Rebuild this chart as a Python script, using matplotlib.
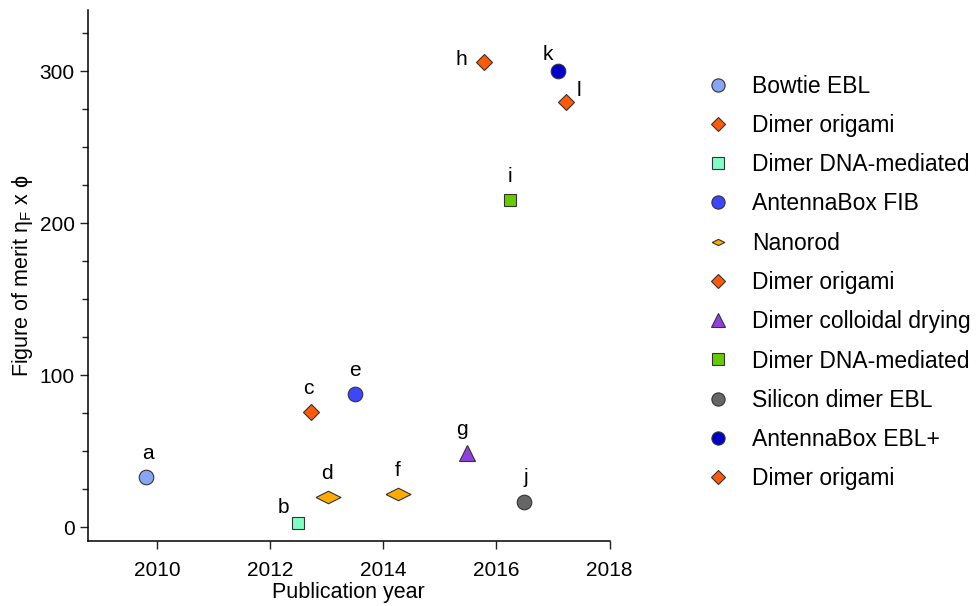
#!/usr/bin/env python3
"""Figure of merit vs publication year scatter."""

import matplotlib
matplotlib.use('Agg')
import matplotlib.pyplot as plt
from matplotlib.lines import Line2D
from matplotlib.ticker import MultipleLocator

plt.rcParams['font.family'] = ['Liberation Sans', 'DejaVu Sans']
plt.rcParams['mathtext.fontset'] = 'custom'
plt.rcParams['mathtext.rm'] = 'Liberation Sans'
plt.rcParams['mathtext.it'] = 'Liberation Sans'

# point data, one entry per letter
letters = ['a', 'b', 'c', 'd', 'e', 'f', 'g', 'h', 'i', 'j', 'k', 'l']
years = [2009.8, 2012.5, 2012.72, 2013.02, 2013.5, 2014.26, 2015.48,
         2015.78, 2016.24, 2016.49, 2017.08, 2017.22]
merit = [33, 3, 76, 20, 88, 22, 49, 306, 215, 17, 300, 280]
groups = [0, 2, 1, 4, 3, 4, 6, 5, 7, 8, 9, 10]

# legend entries
legend_labels = ['Bowtie EBL', 'Dimer origami', 'Dimer DNA-mediated', 'AntennaBox FIB',
                 'Nanorod', 'Dimer origami', 'Dimer colloidal drying', 'Dimer DNA-mediated',
                 'Silicon dimer EBL', 'AntennaBox EBL+', 'Dimer origami']
FLAT_DIAMOND = [(-1, 0), (0, 0.5), (1, 0), (0, -0.5), (-1, 0)]
legend_markers = ['o', 'D', 's', 'o', FLAT_DIAMOND, 'D', '^', 's', 'o', 'o', 'D']
legend_colors = ['#87a5f5', '#ff5a0a', '#7fffc4', '#3c46ff', '#ffaa00', '#ff5a0a',
                 '#9040e0', '#66cc00', '#666666', '#0000cc', '#ff5a0a']
marker_sizes = [10.5, 8.5, 9, 10.5, 18, 8.5, 11, 9, 10.5, 10.5, 8.5]
legend_sizes = [9.5, 7.5, 8.5, 9.5, 9, 7.5, 9.5, 8.5, 9.5, 9.5, 7.5]

# label offsets in points (dx, dy)
label_offsets = {
    'a': (2, 17), 'b': (-11, 11), 'c': (-2, 17), 'd': (-1, 17), 'e': (0, 17),
    'f': (0, 17), 'g': (-4, 17), 'h': (-16, 2), 'i': (0, 17), 'j': (1, 17),
    'k': (-7, 12), 'l': (10, 8),
}

fig = plt.figure(figsize=(9.77, 6.06), dpi=100)
ax = fig.add_axes([0.090, 0.107, 0.534, 0.876])

for x, y, g, lab in zip(years, merit, groups, letters):
    ax.plot(x, y, linestyle='none', marker=legend_markers[g], markersize=marker_sizes[g],
            markerfacecolor=legend_colors[g], markeredgecolor='#333333', markeredgewidth=0.8,
            zorder=3)
    dx, dy = label_offsets[lab]
    ax.annotate(lab, (x, y), xytext=(dx, dy), textcoords='offset points',
                ha='center', va='center', fontsize=15)

ax.set_xlim(2008.78, 2018)
ax.set_ylim(-9, 340)
ax.xaxis.set_major_locator(MultipleLocator(2))
ax.yaxis.set_major_locator(MultipleLocator(100))
ax.yaxis.set_minor_locator(MultipleLocator(25))
ax.tick_params(axis='both', which='major', direction='out', length=6, width=1,
               labelsize=15, color='#222222')
ax.tick_params(axis='x', which='major', pad=8.5)
ax.tick_params(axis='y', which='minor', direction='out', length=4, width=1, color='#222222')
for side in ('top', 'right'):
    ax.spines[side].set_visible(False)
for side in ('left', 'bottom'):
    ax.spines[side].set_linewidth(1.1)

ax.set_xlabel('Publication year', fontsize=15.5, labelpad=1.5)
ax.set_ylabel(r'Figure of merit $\eta_{\mathrm{F}}$ x $\phi$', fontsize=15.5, labelpad=3)

handles = []
for m, c, s in zip(legend_markers, legend_colors, legend_sizes):
    handles.append(Line2D([], [], linestyle='none', marker=m, markersize=s,
                          markerfacecolor=c, markeredgecolor='#333333', markeredgewidth=0.8))
fig.legend(handles, legend_labels, loc='upper left', bbox_to_anchor=(0.714, 0.892),
           frameon=False, fontsize=16.5, labelspacing=0.71, handletextpad=0.98,
           handlelength=1.0, borderaxespad=0)

fig.savefig('out.png', dpi=100, facecolor='white')
